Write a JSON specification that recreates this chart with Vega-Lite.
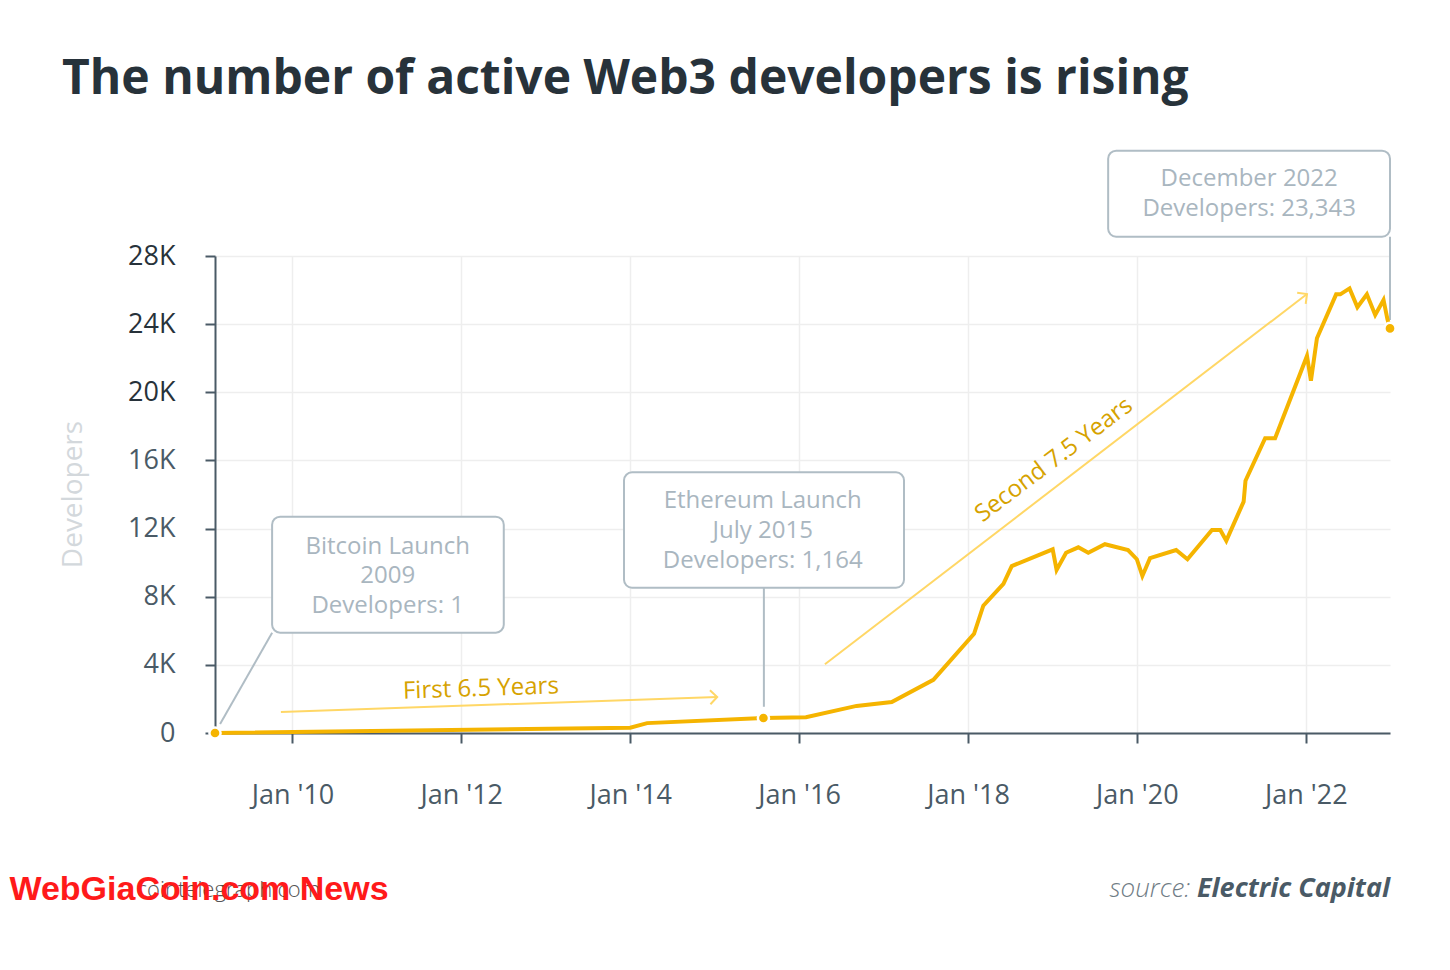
{
  "$schema": "https://vega.github.io/schema/vega-lite/v6.json",
  "autosize": "none",
  "width": 1175,
  "height": 477,
  "padding": {"left": 215, "top": 256, "right": 60, "bottom": 237},
  "background": "white",
  "config": {"view": {"stroke": null}, "font": "Open Sans"},
  "title": {
    "text": "The number of active Web3 developers is rising",
    "anchor": "start",
    "frame": "group",
    "dx": -153,
    "offset": 8,
    "baseline": "alphabetic",
    "font": "Open Sans",
    "fontSize": 48,
    "fontWeight": "bold",
    "color": "#27323a"
  },
  "datasets": {
    "series": [
      {"date": "2009-01-31", "value": 1},
      {"date": "2014-01-01", "value": 310},
      {"date": "2014-03-15", "value": 580},
      {"date": "2015-07-31", "value": 880},
      {"date": "2016-01-31", "value": 930},
      {"date": "2016-09-06", "value": 1590},
      {"date": "2017-02-05", "value": 1820},
      {"date": "2017-08-04", "value": 3120},
      {"date": "2018-01-27", "value": 5820},
      {"date": "2018-03-08", "value": 7470},
      {"date": "2018-06-03", "value": 8750},
      {"date": "2018-07-09", "value": 9800},
      {"date": "2019-01-02", "value": 10780},
      {"date": "2019-01-19", "value": 9570},
      {"date": "2019-03-01", "value": 10580},
      {"date": "2019-04-23", "value": 10900},
      {"date": "2019-06-05", "value": 10580},
      {"date": "2019-08-16", "value": 11080},
      {"date": "2019-11-24", "value": 10740},
      {"date": "2020-01-01", "value": 10200},
      {"date": "2020-01-25", "value": 9220},
      {"date": "2020-02-27", "value": 10260},
      {"date": "2020-06-19", "value": 10740},
      {"date": "2020-08-07", "value": 10200},
      {"date": "2020-11-21", "value": 11920},
      {"date": "2020-12-27", "value": 11920},
      {"date": "2021-01-22", "value": 11290},
      {"date": "2021-04-07", "value": 13580},
      {"date": "2021-04-15", "value": 14810},
      {"date": "2021-07-09", "value": 17300},
      {"date": "2021-08-21", "value": 17300},
      {"date": "2022-01-06", "value": 22130},
      {"date": "2022-01-23", "value": 20680},
      {"date": "2022-02-18", "value": 23170},
      {"date": "2022-05-12", "value": 25750},
      {"date": "2022-05-30", "value": 25750},
      {"date": "2022-07-09", "value": 26100},
      {"date": "2022-08-12", "value": 24990},
      {"date": "2022-09-22", "value": 25750},
      {"date": "2022-10-28", "value": 24540},
      {"date": "2022-12-03", "value": 25420},
      {"date": "2022-12-20", "value": 24280},
      {"date": "2022-12-31", "value": 23750}
    ],
    "dots": [
      {"date": "2009-01-31", "value": 1},
      {"date": "2015-07-31", "value": 880},
      {"date": "2022-12-31", "value": 23750}
    ],
    "boxes": [
      {"date": "2009-10-05", "date2": "2012-07-03", "value": 12700, "value2": 5890},
      {"date": "2013-12-05", "date2": "2017-03-30", "value": 15300, "value2": 8530},
      {"date": "2019-08-30", "date2": "2022-12-31", "value": 34180, "value2": 29130}
    ],
    "connectors": [
      {"date": "2009-10-05", "date2": "2009-02-22", "value": 5890, "value2": 530},
      {"date": "2015-08-02", "date2": "2015-08-02", "value": 8530, "value2": 1540},
      {"date": "2022-12-31", "date2": "2022-12-31", "value": 29130, "value2": 24250}
    ],
    "boxtext": [
      {"date": "2011-02-17", "value": 10940, "text": "Bitcoin Launch"},
      {"date": "2011-02-17", "value": 9220, "text": "2009"},
      {"date": "2011-02-17", "value": 7455, "text": "Developers: 1"},
      {"date": "2015-07-28", "value": 13640, "text": "Ethereum Launch"},
      {"date": "2015-07-28", "value": 11860, "text": "July 2015"},
      {"date": "2015-07-28", "value": 10110, "text": "Developers: 1,164"},
      {"date": "2021-05-01", "value": 32500, "text": "December 2022"},
      {"date": "2021-05-01", "value": 30740, "text": "Developers: 23,343"}
    ],
    "arrows": [
      {"date": "2009-11-12", "date2": "2015-01-12", "value": 1233, "value2": 2113},
      {"date": "2016-04-22", "date2": "2022-01-06", "value": 4040, "value2": 25770}
    ],
    "head1": [{"date": "2015-01-12", "value": 2113}],
    "head2": [{"date": "2022-01-06", "value": 25770}],
    "lab1": [{"date": "2012-03-26", "value": 2583, "text": "First 6.5 Years"}],
    "lab2": [{"date": "2019-01-08", "value": 16025, "text": "Second 7.5 Years"}],
    "src1": [{"date": "2020-08-19", "value": -9630, "text": "source:"}],
    "src2": [{"date": "2022-12-31", "value": -9630, "text": "Electric Capital"}],
    "wm1": [{"date": "2008-02-27", "value": -9630, "text": "cointelegraph.com"}],
    "wm2": [{"date": "2006-08-26", "value": -9800, "text": "WebGiaCoin.com News"}]
  },
  "layer": [
    {
      "data": {"name": "series"},
      "mark": {"type": "line", "stroke": "#f5b400", "strokeWidth": 4, "opacity": 0},
      "encoding": {
        "x": {
          "field": "date", "type": "temporal",
          "scale": {"type": "utc", "domain": [{"year": 2009, "month": 1, "date": 31, "utc": true}, {"year": 2022, "month": 12, "date": 31, "utc": true}], "nice": false},
          "axis": {
            "title": null,
            "values": [
              {"year": 2010, "month": 1, "date": 1, "utc": true},
              {"year": 2012, "month": 1, "date": 1, "utc": true},
              {"year": 2014, "month": 1, "date": 1, "utc": true},
              {"year": 2016, "month": 1, "date": 1, "utc": true},
              {"year": 2018, "month": 1, "date": 1, "utc": true},
              {"year": 2020, "month": 1, "date": 1, "utc": true},
              {"year": 2022, "month": 1, "date": 1, "utc": true}
            ],
            "format": "%b '%y",
            "labelFont": "Open Sans", "labelFontSize": 27, "labelColor": "#4a5a66",
            "labelPadding": 39, "tickSize": 10, "tickWidth": 2, "tickColor": "#4a5a66",
            "domainColor": "#4a5a66", "domainWidth": 2,
            "grid": true, "gridColor": "#eeeeee", "gridWidth": 1.5
          }
        },
        "y": {
          "field": "value", "type": "quantitative",
          "scale": {"domain": [0, 28000], "nice": false},
          "axis": {
            "title": "Developers",
            "titleFont": "Open Sans", "titleFontSize": 28, "titleFontWeight": "normal", "titleColor": "#d3d8dc",
            "titleX": -128, "titleY": 238,
            "values": [0, 4000, 8000, 12000, 16000, 20000, 24000, 28000],
            "labelExpr": "datum.value == 0 ? '0' : (datum.value / 1000) + 'K'",
            "labelFont": "Open Sans", "labelFontSize": 27,
            "labelColor": {"condition": {"test": "datum.value >= 20000", "value": "#27323a"}, "value": "#4a5a66"},
            "labelPadding": 30, "tickSize": 10, "tickWidth": 2, "tickColor": "#4a5a66",
            "domainColor": "#4a5a66", "domainWidth": 2,
            "grid": true, "gridColor": "#eeeeee", "gridWidth": 1.5
          }
        }
      }
    },
    {
      "data": {"name": "boxes"},
      "mark": {"type": "rect", "fill": "white", "stroke": "#b0bdc5", "strokeWidth": 2, "cornerRadius": 8},
      "encoding": {
        "x": {"field": "date", "type": "temporal"},
        "x2": {"field": "date2"},
        "y": {"field": "value", "type": "quantitative"},
        "y2": {"field": "value2"}
      }
    },
    {
      "data": {"name": "connectors"},
      "mark": {"type": "rule", "stroke": "#b0bdc5", "strokeWidth": 2},
      "encoding": {
        "x": {"field": "date", "type": "temporal"},
        "x2": {"field": "date2"},
        "y": {"field": "value", "type": "quantitative"},
        "y2": {"field": "value2"}
      }
    },
    {
      "data": {"name": "boxtext"},
      "mark": {"type": "text", "font": "Open Sans", "fontSize": 24, "color": "#a9b6bf", "align": "center", "baseline": "middle"},
      "encoding": {
        "x": {"field": "date", "type": "temporal"},
        "y": {"field": "value", "type": "quantitative"},
        "text": {"field": "text"}
      }
    },
    {
      "data": {"name": "arrows"},
      "mark": {"type": "rule", "stroke": "#ffd766", "strokeWidth": 2},
      "encoding": {
        "x": {"field": "date", "type": "temporal"},
        "x2": {"field": "date2"},
        "y": {"field": "value", "type": "quantitative"},
        "y2": {"field": "value2"}
      }
    },
    {
      "data": {"name": "head1"},
      "mark": {"type": "point", "shape": "M-1,-1L0,0L-1,1", "filled": false, "stroke": "#ffd766", "strokeWidth": 2, "size": 196, "angle": 358, "opacity": 1},
      "encoding": {
        "x": {"field": "date", "type": "temporal"},
        "y": {"field": "value", "type": "quantitative"}
      }
    },
    {
      "data": {"name": "head2"},
      "mark": {"type": "point", "shape": "M-1,-1L0,0L-1,1", "filled": false, "stroke": "#ffd766", "strokeWidth": 2, "size": 196, "angle": 322.5, "opacity": 1},
      "encoding": {
        "x": {"field": "date", "type": "temporal"},
        "y": {"field": "value", "type": "quantitative"}
      }
    },
    {
      "data": {"name": "lab1"},
      "mark": {"type": "text", "font": "Open Sans", "fontSize": 24, "color": "#d6a200", "align": "center", "baseline": "middle", "angle": 358},
      "encoding": {
        "x": {"field": "date", "type": "temporal"},
        "y": {"field": "value", "type": "quantitative"},
        "text": {"field": "text"}
      }
    },
    {
      "data": {"name": "lab2"},
      "mark": {"type": "text", "font": "Open Sans", "fontSize": 24, "color": "#d6a200", "align": "center", "baseline": "middle", "angle": 323},
      "encoding": {
        "x": {"field": "date", "type": "temporal"},
        "y": {"field": "value", "type": "quantitative"},
        "text": {"field": "text"}
      }
    },
    {
      "data": {"name": "series"},
      "mark": {"type": "line", "stroke": "#f5b400", "strokeWidth": 4},
      "encoding": {
        "x": {"field": "date", "type": "temporal"},
        "y": {"field": "value", "type": "quantitative"}
      }
    },
    {
      "data": {"name": "dots"},
      "mark": {"type": "point", "shape": "circle", "filled": true, "fill": "#f5b400", "stroke": "white", "strokeWidth": 2.5, "size": 125, "opacity": 1},
      "encoding": {
        "x": {"field": "date", "type": "temporal"},
        "y": {"field": "value", "type": "quantitative"}
      }
    },
    {
      "data": {"name": "src1"},
      "mark": {"type": "text", "font": "Open Sans", "fontSize": 26, "fontStyle": "italic", "fontWeight": 300, "color": "#6f7c85", "align": "right", "baseline": "alphabetic"},
      "encoding": {
        "x": {"field": "date", "type": "temporal"},
        "y": {"field": "value", "type": "quantitative"},
        "text": {"field": "text"}
      }
    },
    {
      "data": {"name": "src2"},
      "mark": {"type": "text", "font": "Open Sans", "fontSize": 27, "fontStyle": "italic", "fontWeight": "bold", "color": "#4a5a66", "align": "right", "baseline": "alphabetic"},
      "encoding": {
        "x": {"field": "date", "type": "temporal"},
        "y": {"field": "value", "type": "quantitative"},
        "text": {"field": "text"}
      }
    },
    {
      "data": {"name": "wm1"},
      "mark": {"type": "text", "font": "Open Sans", "fontSize": 22, "fontWeight": 300, "color": "#555555", "align": "left", "baseline": "alphabetic"},
      "encoding": {
        "x": {"field": "date", "type": "temporal"},
        "y": {"field": "value", "type": "quantitative"},
        "text": {"field": "text"}
      }
    },
    {
      "data": {"name": "wm2"},
      "mark": {"type": "text", "font": "Liberation Sans", "fontSize": 34, "fontWeight": "bold", "color": "#ff1a1a", "align": "left", "baseline": "alphabetic"},
      "encoding": {
        "x": {"field": "date", "type": "temporal"},
        "y": {"field": "value", "type": "quantitative"},
        "text": {"field": "text"}
      }
    }
  ]
}
